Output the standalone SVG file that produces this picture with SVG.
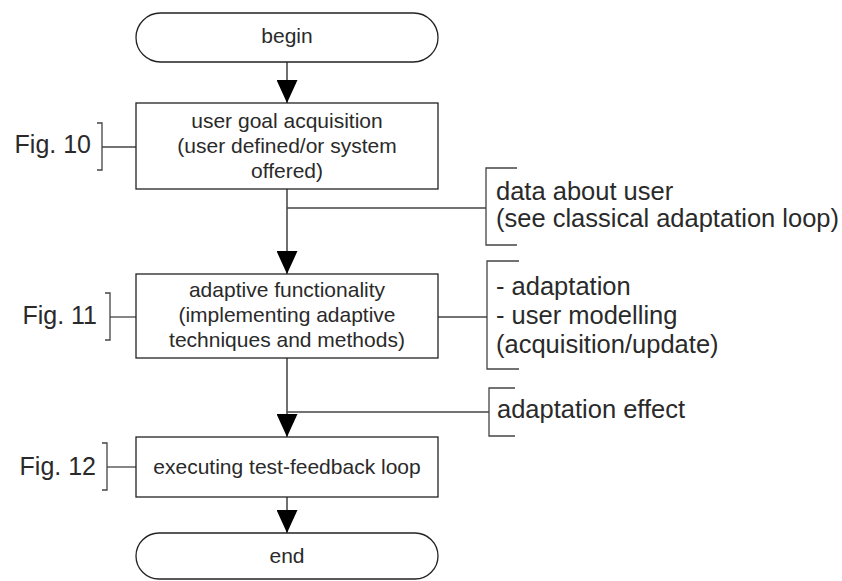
<svg xmlns="http://www.w3.org/2000/svg" width="842" height="581" viewBox="0 0 842 581">
<style>
.shape{fill:#fff;stroke:#222;stroke-width:1.3}
.line{fill:none;stroke:#222;stroke-width:1.3}
.br{fill:none;stroke:#444;stroke-width:1.3}
.t{font-family:"Liberation Sans",Arial,sans-serif;fill:#2a2a2a}
.box{font-size:21px;text-anchor:middle}
.big{font-size:25.5px}
.fig{font-size:25px;text-anchor:end}
</style>
<defs>
<marker id="ah" markerUnits="userSpaceOnUse" markerWidth="23" markerHeight="21" refX="23" refY="10.5" orient="auto" viewBox="0 0 23 21">
<path d="M0,0 L23,10.5 L0,21 z" fill="#000"/>
</marker>
</defs>
<rect width="842" height="581" fill="#fff"/>
<g id="connectors">
<line class="line" x1="287" y1="62" x2="287" y2="103" marker-end="url(#ah)"/>
<line class="line" x1="287" y1="189" x2="287" y2="274" marker-end="url(#ah)"/>
<line class="line" x1="287" y1="358" x2="287" y2="437" marker-end="url(#ah)"/>
<line class="line" x1="287" y1="497" x2="287" y2="533" marker-end="url(#ah)"/>
<line class="br" x1="287" y1="208" x2="486" y2="208"/>
<line class="br" x1="438" y1="317" x2="487" y2="317"/>
<line class="br" x1="287" y1="412" x2="489" y2="412"/>
<line class="br" x1="102" y1="147" x2="136" y2="147"/>
<line class="br" x1="110" y1="317" x2="136" y2="317"/>
<line class="br" x1="107" y1="467" x2="136" y2="467"/>
</g>
<g id="begin">
<rect class="shape" x="136" y="13" width="302" height="49" rx="24.5"/>
<text class="t box" x="287" y="43">begin</text>
</g>
<g id="goal">
<rect class="shape" x="136" y="103" width="302" height="86"/>
<text class="t box" x="287" y="128">user goal acquisition</text>
<text class="t box" x="287" y="153">(user defined/or system</text>
<text class="t box" x="287" y="178">offered)</text>
</g>
<g id="adaptive">
<rect class="shape" x="136" y="274" width="302" height="84"/>
<text class="t box" x="287" y="297">adaptive functionality</text>
<text class="t box" x="287" y="322">(implementing adaptive</text>
<text class="t box" x="287" y="347">techniques and methods)</text>
</g>
<g id="testloop">
<rect class="shape" x="136" y="437" width="302" height="60"/>
<text class="t box" x="287" y="474">executing test-feedback loop</text>
</g>
<g id="end">
<rect class="shape" x="136" y="533" width="302" height="46" rx="23"/>
<text class="t box" x="287" y="563">end</text>
</g>
<g id="fig10">
<path class="br" d="M97,123 H102 V170 H97"/>
<text class="t fig" x="91" y="153">Fig. 10</text>
</g>
<g id="fig11">
<path class="br" d="M105,293 H110 V340 H105"/>
<text class="t fig" x="97" y="324">Fig. 11</text>
</g>
<g id="fig12">
<path class="br" d="M102,443 H107 V490 H102"/>
<text class="t fig" x="96" y="475">Fig. 12</text>
</g>
<g id="note-data">
<path class="br" d="M517,168 H486 V245 H517"/>
<text class="t big" x="496" y="200">data about user</text>
<text class="t big" x="496" y="227">(see classical adaptation loop)</text>
</g>
<g id="note-adapt">
<path class="br" d="M519,261 H487 V369 H519"/>
<text class="t big" x="496" y="295">- adaptation</text>
<text class="t big" x="496" y="324">- user modelling</text>
<text class="t big" x="496" y="353">(acquisition/update)</text>
</g>
<g id="note-effect">
<path class="br" d="M515,388 H489 V436 H515"/>
<text class="t big" x="497" y="418">adaptation effect</text>
</g>
</svg>
